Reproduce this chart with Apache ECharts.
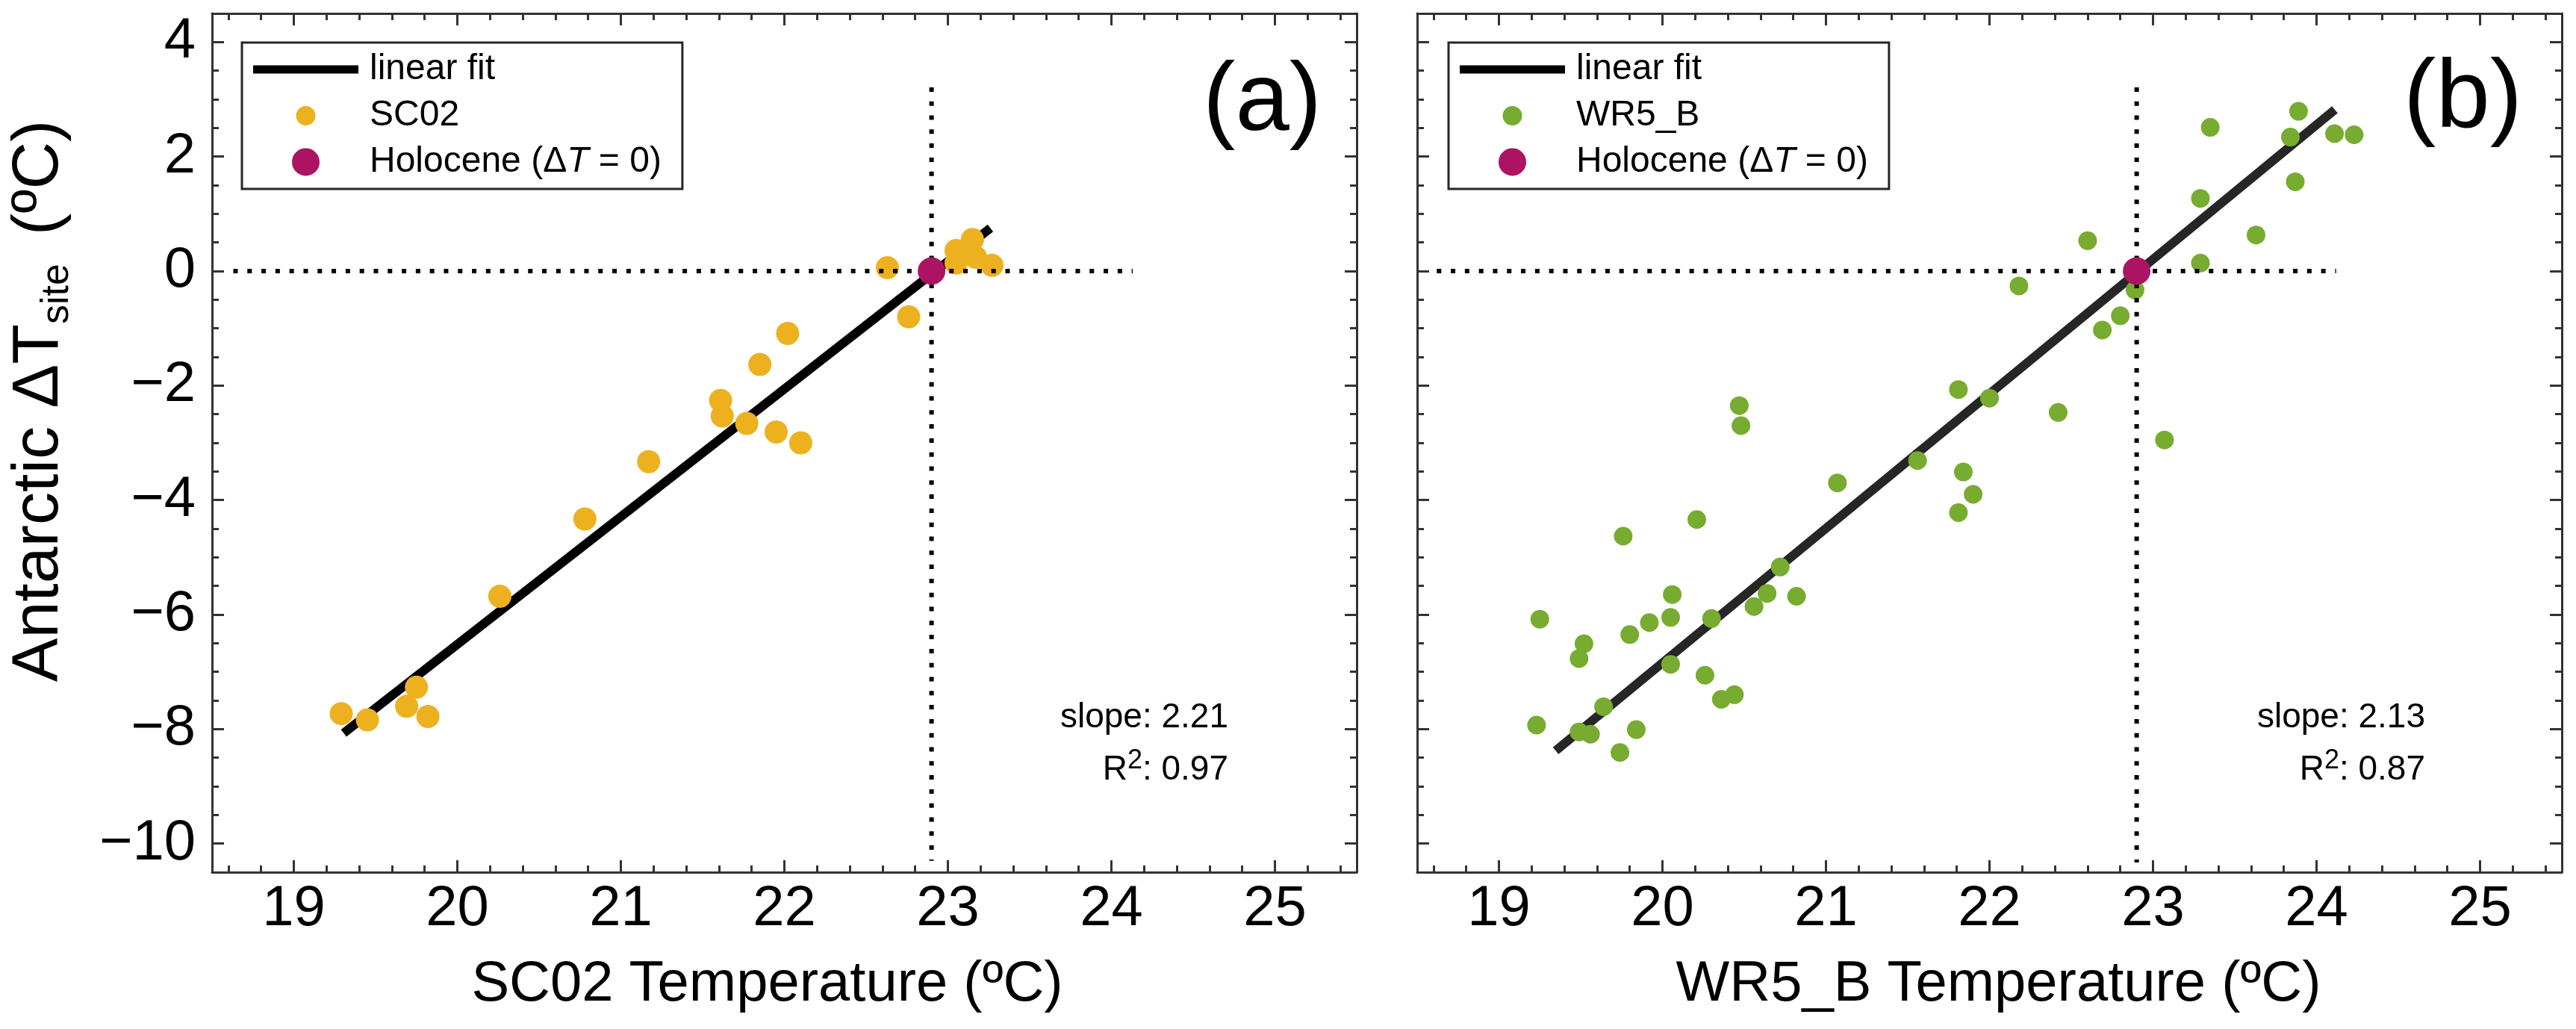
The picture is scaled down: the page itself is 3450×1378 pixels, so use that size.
<!DOCTYPE html>
<html>
<head>
<meta charset="utf-8">
<script src="https://cdn.jsdelivr.net/npm/echarts@6/dist/echarts.min.js"></script>
<style>
html,body{margin:0;padding:0;background:#fff;}
#c{width:3450px;height:1378px;}
</style>
</head>
<body>
<div id="c"></div>
<script>
// ---------- data ----------
const xMajorTicks = [19, 20, 21, 22, 23, 24, 25];
const yMajorTicks = [-10, -8, -6, -4, -2, 0, 2, 4];
const xRange = [18.5, 25.5];
const yRange = [-10.5, 4.5];

const sc02Points = [
  [19.29,-7.73],[19.45,-7.84],[19.75,-7.27],[19.69,-7.60],[19.82,-7.78],
  [20.26,-5.68],[20.78,-4.33],[21.17,-3.33],[21.61,-2.26],[21.62,-2.53],
  [21.77,-2.66],[21.85,-1.63],[22.02,-1.09],[21.95,-2.81],[22.10,-3.00],
  [22.63,0.06],[22.76,-0.80],[23.05,0.36],[23.05,0.14],[23.15,0.55],
  [23.17,0.24],[23.27,0.10]
];
const wr5bPoints = [
  [21.81,-2.07],[20.47,-2.35],[20.48,-2.70],[21.56,-3.31],[21.07,-3.70],
  [21.84,-3.51],[21.90,-3.90],[21.81,-4.22],[20.21,-4.34],[19.76,-4.63],
  [20.72,-5.17],[20.64,-5.63],[20.82,-5.68],[20.56,-5.86],[20.06,-5.65],
  [20.05,-6.05],[20.30,-6.07],[19.92,-6.14],[19.80,-6.35],[19.25,-6.08],
  [19.52,-6.51],[19.49,-6.77],[20.05,-6.87],[20.26,-7.06],[20.36,-7.48],
  [20.44,-7.40],[19.64,-7.61],[19.23,-7.93],[19.49,-8.05],[19.56,-8.09],
  [19.84,-8.01],[19.74,-8.41],
  [22.00,-2.22],[22.18,-0.26],[22.42,-2.47],[22.60,0.53],[22.69,-1.03],
  [22.80,-0.78],[22.89,-0.33],[23.07,-2.95],[23.29,0.14],[23.29,1.27],
  [23.35,2.51],[23.63,0.63],[23.84,2.34],[23.87,1.56],[23.89,2.79],
  [24.11,2.40],[24.23,2.38]
];
const holocenePoint = [[22.9, 0]];
const fitA = [[19.305,-8.07],[23.26,0.75]];
const fitB = [[19.347,-8.38],[24.112,2.82]];
const zeroLineA = [[18.63,0],[24.13,0]];
const vertLineA = [[22.9,3.21],[22.9,-10.30]];
const zeroLineB = [[18.62,0],[24.12,0]];
const vertLineB = [[22.9,3.21],[22.9,-10.33]];
const statsA = {slope: '2.21', r2: '0.97'};
const statsB = {slope: '2.13', r2: '0.87'};

// ---------- style ----------
const FONT = '"Liberation Sans", Arial, Helvetica, sans-serif';
const FRAME = '#333333';
const ORANGE = '#EDB120';
const GREEN = '#77AC30';
const MAGENTA = '#AD1363';

function minorList(lo, hi, step, isMajor) {
  const out = [];
  const k0 = Math.ceil(lo / step + 1e-6);
  for (let k = k0; k * step < hi - 1e-6; k++) {
    const v = Math.round(k * step * 1000) / 1000;
    if (!isMajor(v)) out.push(v);
  }
  return out;
}
const xMinorTicks = minorList(xRange[0], xRange[1], 0.2, v => Math.abs(v - Math.round(v)) < 1e-6);
const yMinorTicks = minorList(yRange[0], yRange[1], 0.5, v => Math.abs(v / 2 - Math.round(v / 2)) < 1e-6);

const fmtNum = v => (v < 0 ? '\u2212' + Math.abs(v) : String(v));

function makeXAxes(grid, name, namePad) {
  const base = {type: 'value', gridIndex: grid, min: xRange[0], max: xRange[1],
    splitLine: {show: false}, minorTick: {show: false}, silent: true};
  const line = {show: true, onZero: false, lineStyle: {color: FRAME, width: 3}};
  const major = {show: true, inside: true, length: 16, customValues: xMajorTicks, lineStyle: {color: FRAME, width: 3}};
  const minor = {show: true, inside: true, length: 9, customValues: xMinorTicks, lineStyle: {color: FRAME, width: 3}};
  return [
    Object.assign({}, base, {position: 'bottom', axisLine: line, axisTick: major,
      axisLabel: {show: true, customValues: xMajorTicks, margin: 12, fontSize: 76, lineHeight: 76,
        color: '#000', fontFamily: FONT, formatter: fmtNum},
      name: name, nameLocation: 'middle', nameGap: 113,
      nameTextStyle: {fontSize: 76, lineHeight: 76, color: '#000', fontFamily: FONT, padding: namePad}}),
    Object.assign({}, base, {position: 'bottom', axisLine: {show: false, onZero: false}, axisTick: minor, axisLabel: {show: false}}),
    Object.assign({}, base, {position: 'top', axisLine: line, axisTick: major, axisLabel: {show: false}}),
    Object.assign({}, base, {position: 'top', axisLine: {show: false, onZero: false}, axisTick: minor, axisLabel: {show: false}})
  ];
}
function makeYAxes(grid, withLabels) {
  const base = {type: 'value', gridIndex: grid, min: yRange[0], max: yRange[1],
    splitLine: {show: false}, minorTick: {show: false}, silent: true};
  const line = {show: true, onZero: false, lineStyle: {color: FRAME, width: 3}};
  const major = {show: true, inside: true, length: 16, customValues: yMajorTicks, lineStyle: {color: FRAME, width: 3}};
  const minor = {show: true, inside: true, length: 9, customValues: yMinorTicks, lineStyle: {color: FRAME, width: 3}};
  const left = Object.assign({}, base, {position: 'left', axisLine: line, axisTick: major,
    axisLabel: withLabels ? {show: true, customValues: yMajorTicks, margin: 22, fontSize: 76, lineHeight: 76,
      color: '#000', fontFamily: FONT, formatter: fmtNum} : {show: false}});
  if (withLabels) {
    Object.assign(left, {
      name: '{m|Antarctic \u0394T}{s|site}{p|(\u00BAC)}',
      nameLocation: 'middle', nameRotate: 90, nameGap: 181,
      nameTextStyle: {fontSize: 88, fontFamily: FONT, color: '#000', padding: [0, 0, 0, 112],
        rich: {
          m: {fontSize: 88, lineHeight: 100, fontFamily: FONT, color: '#000'},
          s: {fontSize: 52, lineHeight: 41, verticalAlign: 'bottom', fontFamily: FONT, color: '#000'},
          p: {fontSize: 88, lineHeight: 100, fontFamily: FONT, color: '#000', padding: [0, 0, 0, 38]}
        }}
    });
  }
  return [
    left,
    Object.assign({}, base, {position: 'left', axisLine: {show: false, onZero: false}, axisTick: minor, axisLabel: {show: false}}),
    Object.assign({}, base, {position: 'right', axisLine: line, axisTick: major, axisLabel: {show: false}}),
    Object.assign({}, base, {position: 'right', axisLine: {show: false, onZero: false}, axisTick: minor, axisLabel: {show: false}})
  ];
}

function panelSeries(xi, yi, tag, fit, fitColor, pts, ptColor, ptSize, hLine, vLine) {
  const dotted = {color: '#000', width: 6, type: [6, 12.8], cap: 'butt'};
  return [
    {type: 'line', name: 'fit' + tag, xAxisIndex: xi, yAxisIndex: yi, data: fit, symbol: 'none',
      color: fitColor, lineStyle: {color: fitColor, width: 12, cap: 'butt'}, z: 2, silent: true},
    {type: 'scatter', name: 'pts' + tag, xAxisIndex: xi, yAxisIndex: yi, data: pts, symbol: 'circle',
      symbolSize: ptSize, itemStyle: {color: ptColor, opacity: 1}, z: 3, silent: true},
    {type: 'line', name: 'h' + tag, xAxisIndex: xi, yAxisIndex: yi, data: hLine, symbol: 'none',
      lineStyle: dotted, z: 4, silent: true},
    {type: 'line', name: 'v' + tag, xAxisIndex: xi, yAxisIndex: yi, data: vLine, symbol: 'none',
      lineStyle: dotted, z: 4, silent: true},
    {type: 'scatter', name: 'holo' + tag, xAxisIndex: xi, yAxisIndex: yi, data: holocenePoint, symbol: 'circle',
      symbolSize: 37, itemStyle: {color: MAGENTA, opacity: 1}, z: 5, silent: true}
  ];
}

const legendNames = {fitA: 'linear fit', fitB: 'linear fit', ptsA: 'SC02', ptsB: 'WR5_B',
  holoA: 'Holocene (\u0394{i|T} = 0)', holoB: 'Holocene (\u0394{i|T} = 0)'};
const LINE_ICON = 'path://M0,0L141,0L141,11L0,11Z';
function makeLegend(tag, left, fitColor) {
  return {
    data: [{name: 'fit' + tag, icon: LINE_ICON, itemStyle: {color: fitColor, borderWidth: 0}},
      {name: 'pts' + tag},
      {name: 'holo' + tag, itemStyle: {borderColor: MAGENTA, borderWidth: 11}}],
    orient: 'vertical', left: left, top: 57, itemWidth: 141, itemHeight: 26, itemGap: 14,
    symbolKeepAspect: true,
    padding: [12, 28, 12, 15], borderColor: '#262626', borderWidth: 3, backgroundColor: '#fff',
    selectedMode: false, formatter: n => legendNames[n],
    textStyle: {fontSize: 48, color: '#000', fontFamily: FONT, padding: [0, 0, 0, 10],
      rich: {i: {fontSize: 48, fontStyle: 'italic', color: '#000', fontFamily: FONT}}}
  };
}

function statText(x, stats) {
  return [
    {type: 'text', x: x, y: 961, z: 10, style: {text: 'slope: ' + stats.slope, fontSize: 46, fontFamily: FONT,
      fill: '#000', align: 'right', verticalAlign: 'middle'}},
    {type: 'text', x: x, y: 1031, z: 10, style: {text: 'R{s|2}: ' + stats.r2, fontSize: 46, lineHeight: 60,
      fontFamily: FONT, fill: '#000', align: 'right', verticalAlign: 'middle',
      rich: {s: {fontSize: 36, lineHeight: 27, verticalAlign: 'top', fontFamily: FONT, fill: '#000'}}}}
  ];
}

const option = {
  animation: false,
  backgroundColor: '#fff',
  grid: [
    {left: 284, top: 18, width: 1533, height: 1150},
    {left: 1898, top: 18, width: 1533, height: 1150}
  ],
  xAxis: makeXAxes(0, 'SC02 Temperature (\u00BAC)', [0, 46, 0, 0])
    .concat(makeXAxes(1, 'WR5_B Temperature (\u00BAC)', [0, 0, 0, 24])),
  yAxis: makeYAxes(0, true).concat(makeYAxes(1, false)),
  legend: [makeLegend('A', 324, '#000000'), makeLegend('B', 1940, '#000000')],
  series: panelSeries(0, 0, 'A', fitA, '#000000', sc02Points, ORANGE, 31, zeroLineA, vertLineA)
    .concat(panelSeries(4, 4, 'B', fitB, '#262626', wr5bPoints, GREEN, 25, zeroLineB, vertLineB)),
  graphic: [
    {type: 'text', x: 1770, y: 138, z: 10, style: {text: '(a)', fontSize: 130, fontFamily: FONT, fill: '#000',
      align: 'right', verticalAlign: 'middle'}},
    {type: 'text', x: 3378, y: 134, z: 10, style: {text: '(b)', fontSize: 130, fontFamily: FONT, fill: '#000',
      align: 'right', verticalAlign: 'middle'}}
  ].concat(statText(1645, statsA)).concat(statText(3248, statsB))
};

const chart = echarts.init(document.getElementById('c'), null, {renderer: 'canvas'});
chart.setOption(option);
</script>
</body>
</html>
